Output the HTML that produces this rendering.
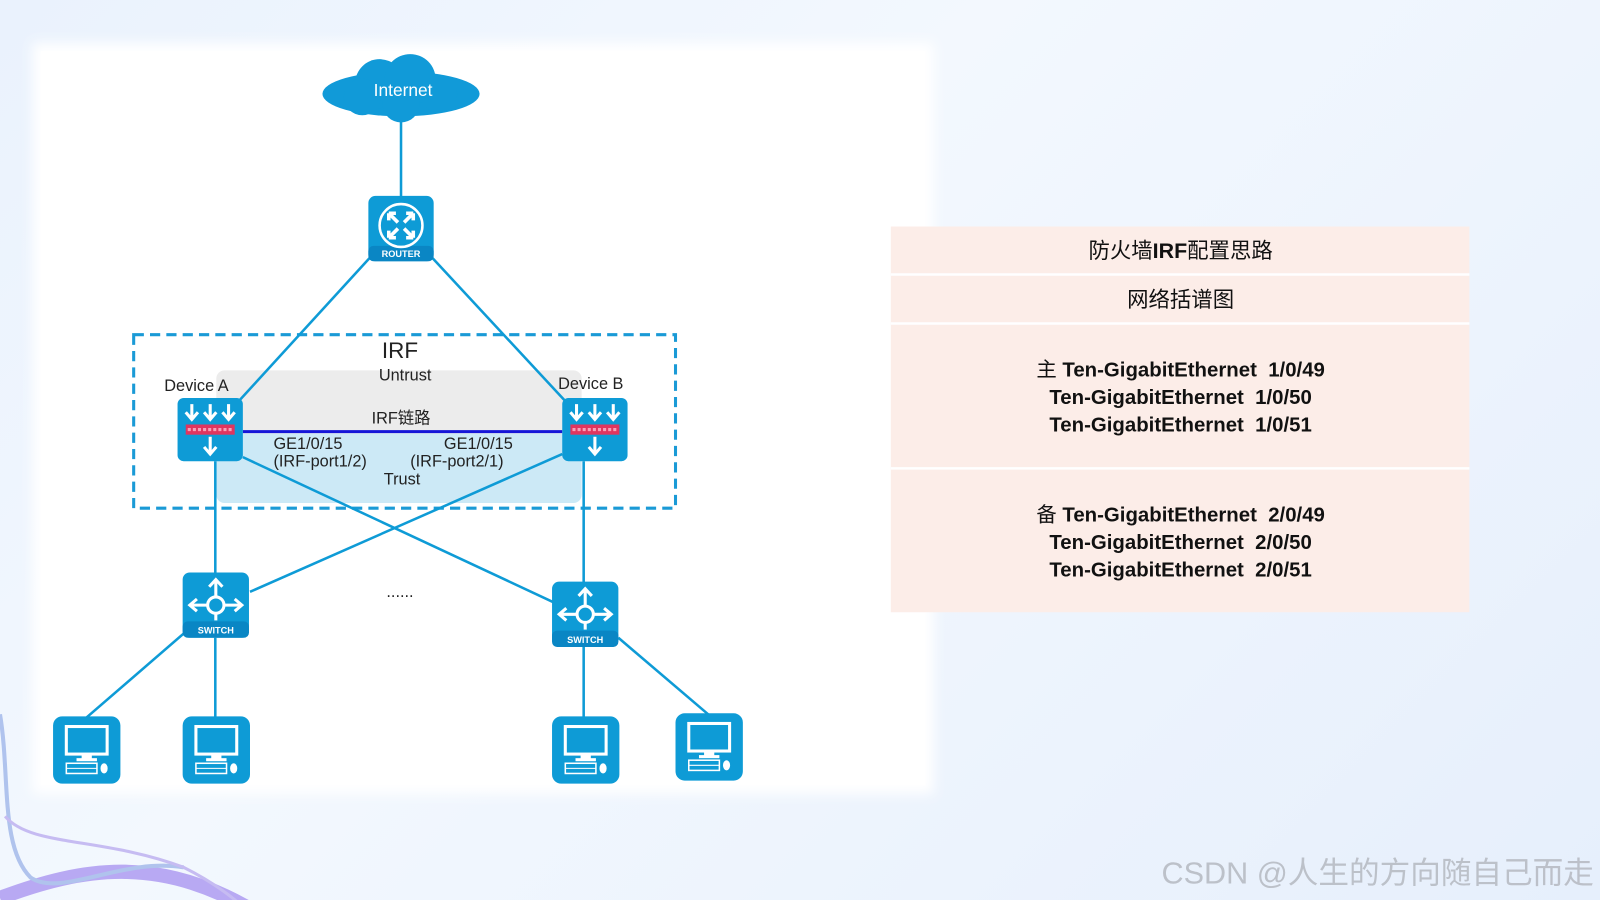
<!DOCTYPE html>
<html><head><meta charset="utf-8"><style>
html,body{margin:0;padding:0}
body{width:1600px;height:900px;overflow:hidden;background:linear-gradient(135deg,#eaf2fd 0%,#f3f8fe 40%,#e6effc 100%);font-family:"Liberation Sans","Noto Sans CJK SC",sans-serif}
svg{position:absolute;left:0;top:0}
</style></head><body>
<svg width="1600" height="900" viewBox="0 0 1568 882" preserveAspectRatio="none" xmlns="http://www.w3.org/2000/svg">
<defs>
<filter id="blur"><feGaussianBlur stdDeviation="6"/></filter>
<g id="pc">
<rect x="0" y="0" width="66" height="66" rx="9" fill="#0e9bd6"/>
<rect x="13" y="10" width="40" height="27" fill="none" stroke="#fff" stroke-width="3"/>
<rect x="28" y="38" width="10" height="4" fill="#fff"/>
<rect x="23" y="41" width="20" height="3" fill="#fff"/>
<rect x="13" y="46" width="30" height="10" fill="none" stroke="#fff" stroke-width="1.5"/>
<line x1="13" y1="51" x2="43" y2="51" stroke="#fff" stroke-width="1"/>
<ellipse cx="50" cy="51" rx="3.5" ry="5" fill="#fff"/>
</g>
<g id="sw">
<rect x="0" y="0" width="65" height="64" rx="7" fill="#0e9bd6"/>
<rect x="0" y="48" width="65" height="16" rx="5" fill="#0a86c4"/>
<text x="32.5" y="60" font-size="9" font-weight="bold" fill="#fff" text-anchor="middle">SWITCH</text>
<circle cx="32.5" cy="32" r="8" fill="none" stroke="#fff" stroke-width="3"/>
<path d="M32.5 24V8M26 14l6.5-7 6.5 7M24 32H8M14 26l-7 6 7 6M41 32h16M51 26l7 6-7 6" stroke="#fff" stroke-width="3" fill="none"/>
<line x1="32.5" y1="40" x2="32.5" y2="47" stroke="#fff" stroke-width="3"/>
</g>
<g id="fw">
<rect x="0" y="0" width="64" height="62" rx="6" fill="#0e9bd6"/>
<path d="M14 6v14M8 14l6 7 6-7M32 6v14M26 14l6 7 6-7M50 6v14M44 14l6 7 6-7M32 38v16M26 48l6 7 6-7" stroke="#fff" stroke-width="3" fill="none"/>
<rect x="8" y="26" width="48" height="10" fill="#e0355f"/>
<line x1="10" y1="31" x2="54" y2="31" stroke="#f7a0b8" stroke-width="3" stroke-dasharray="3 2"/>
</g>
</defs>
<g opacity="0.75">
<path d="M0 880 C80 850 160 835 260 900" stroke="#a58ff0" stroke-width="14" fill="none"/>
<path d="M0 700 C10 760 0 830 30 860 C60 880 120 840 180 850" stroke="#9ab2e8" stroke-width="4" fill="none"/>
<path d="M5 800 C30 830 100 820 180 850 C220 870 240 890 250 900" stroke="#b8a8ee" stroke-width="3" fill="none"/>
</g>
<rect x="32" y="42" width="883" height="736" fill="#fff" filter="url(#blur)"/>
<rect x="40" y="50" width="867" height="720" fill="#fff"/>
<rect x="212" y="363" width="358" height="64" rx="8" fill="#ececec"/>
<rect x="212" y="425" width="358" height="68" rx="8" fill="#cce9f6"/>
<rect x="131" y="328" width="531" height="170" fill="none" stroke="#1a9ad6" stroke-width="3" stroke-dasharray="10 6"/>
<g stroke="#0e9bd6" stroke-width="2.5" fill="none">
<line x1="393" y1="118" x2="393" y2="195"/>
<line x1="363" y1="252" x2="235" y2="392"/>
<line x1="423" y1="252" x2="553" y2="392"/>
<line x1="211" y1="452" x2="211" y2="562"/>
<line x1="572" y1="452" x2="572" y2="572"/>
<line x1="238" y1="448" x2="542" y2="590"/>
<line x1="551" y1="445" x2="245" y2="580"/>
<line x1="181" y1="620" x2="85" y2="703"/>
<line x1="211" y1="625" x2="211" y2="703"/>
<line x1="572" y1="634" x2="572" y2="703"/>
<line x1="606" y1="625" x2="694" y2="700"/>
</g>
<line x1="238" y1="423" x2="551" y2="423" stroke="#1515d8" stroke-width="3"/>
<g fill="#119ad8">
<ellipse cx="393" cy="92" rx="77" ry="22"/>
<circle cx="372" cy="82" r="24"/>
<circle cx="402" cy="78" r="25"/>
<circle cx="430" cy="92" r="18"/>
<circle cx="355" cy="95" r="18"/>
<circle cx="393" cy="102" r="18"/>
</g>
<text x="395" y="94" font-size="17" fill="#fff" text-anchor="middle">Internet</text>
<rect x="361" y="192" width="64" height="64" rx="7" fill="#0e9bd6"/>
<rect x="361" y="241" width="64" height="15" rx="5" fill="#0a86c4"/>
<text x="393" y="252" font-size="9" font-weight="bold" fill="#fff" text-anchor="middle">ROUTER</text>
<circle cx="393" cy="221" r="21" fill="none" stroke="#fff" stroke-width="2.5"/>
<path d="M381 209l9 9M405 209l-9 9M381 233l9-9M405 233l-9-9M381 209h7M381 209v7M405 209h-7M405 209v7M381 233h7M381 233v-7M405 233h-7M405 233v-7" stroke="#fff" stroke-width="3.5" fill="none"/>
<use href="#fw" x="174" y="390"/>
<use href="#fw" x="551" y="390"/>
<use href="#sw" x="179" y="561"/>
<use href="#sw" x="541" y="570"/>
<use href="#pc" x="52" y="702"/>
<use href="#pc" x="179" y="702"/>
<use href="#pc" x="541" y="702"/>
<use href="#pc" x="662" y="699"/>
<g fill="#222" font-size="16">
<text x="392" y="351" font-size="22" text-anchor="middle">IRF</text>
<text x="397" y="373" text-anchor="middle">Untrust</text>
<text x="161" y="383">Device A</text>
<text x="547" y="381">Device B</text>
<text x="393" y="415" text-anchor="middle">IRF链路</text>
<text x="268" y="440">GE1/0/15</text>
<text x="268" y="457">(IRF-port1/2)</text>
<text x="435" y="440">GE1/0/15</text>
<text x="402" y="457">(IRF-port2/1)</text>
<text x="394" y="475" text-anchor="middle">Trust</text>
<text x="392" y="585" text-anchor="middle">......</text>
</g>
<rect x="873" y="222" width="567" height="378" fill="#fcede8"/>
<g stroke="#fff" stroke-width="2.5"><line x1="873" y1="269" x2="1440" y2="269"/><line x1="873" y1="317" x2="1440" y2="317"/><line x1="873" y1="459" x2="1440" y2="459"/></g>
<g fill="#111" font-size="21" text-anchor="middle">
<text x="1157" y="253">防火墙<tspan font-weight="bold">IRF</tspan>配置思路</text>
<text x="1157" y="301">网络括谱图</text>
<g font-weight="bold" font-size="20">
<text x="1157" y="369"><tspan font-weight="normal">主 </tspan>Ten-GigabitEthernet&#160;&#160;1/0/49</text>
<text x="1157" y="396">Ten-GigabitEthernet&#160;&#160;1/0/50</text>
<text x="1157" y="423">Ten-GigabitEthernet&#160;&#160;1/0/51</text>
<text x="1157" y="511"><tspan font-weight="normal">备 </tspan>Ten-GigabitEthernet&#160;&#160;2/0/49</text>
<text x="1157" y="538">Ten-GigabitEthernet&#160;&#160;2/0/50</text>
<text x="1157" y="565">Ten-GigabitEthernet&#160;&#160;2/0/51</text>
</g>
</g>
<text x="1562" y="866" font-size="30" fill="#b8bcc4" text-anchor="end" opacity="0.9">CSDN @人生的方向随自己而走</text>
</svg>
</body></html>
